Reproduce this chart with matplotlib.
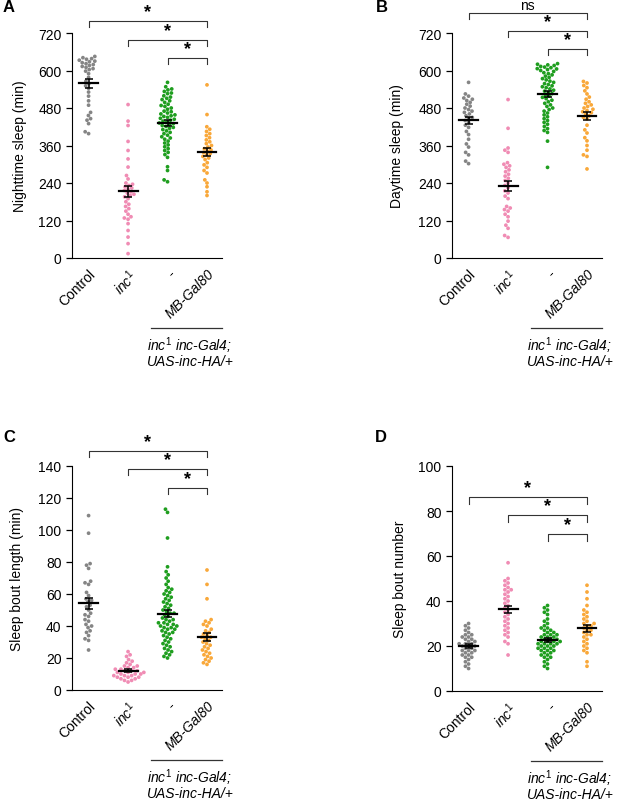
import numpy as np
import pandas as pd
import matplotlib
matplotlib.use("Agg")
import matplotlib.pyplot as plt
import matplotlib.transforms as mtransforms
import seaborn as sns

plt.rcParams['font.family'] = ['Liberation Sans', 'DejaVu Sans']
plt.rcParams['mathtext.fontset'] = 'custom'
plt.rcParams['mathtext.rm'] = 'Liberation Sans'
plt.rcParams['mathtext.it'] = 'Liberation Sans:italic'
plt.rcParams['font.size'] = 10

groups = ["Control", "inc1", "-", "MB-Gal80"]
tick_labels = ["Control", r"$inc^{1}$", "-", "MB-Gal80"]
colors = ["#858585", "#f08cb4", "#1f9e1f", "#f9a83a"]

# A - nighttime sleep (min)
night_ctrl = [645, 641, 638, 636, 633, 630, 628, 625, 622, 619, 616, 613, 610, 606, 603,
              598, 590, 578, 566, 558, 551, 543, 531, 518, 503, 489, 466, 456, 446, 441,
              430, 404, 398]
night_inc = [491, 438, 424, 373, 344, 317, 291, 264, 253, 240, 236, 232, 228, 224, 220,
             216, 212, 208, 204, 200, 196, 190, 180, 172, 165, 158, 150, 140, 132, 128,
             124, 110, 88, 67, 46, 14]
night_res = [562, 548, 541, 538, 533, 528, 526, 519, 515, 511, 507, 503, 498, 492, 488,
             485, 480, 476, 470, 468, 464, 461, 458, 455, 453, 450, 447, 444, 441, 438,
             436, 432, 430, 427, 424, 421, 418, 415, 411, 407, 402, 398, 393, 388, 384,
             380, 374, 368, 362, 356, 350, 344, 338, 331, 322, 292, 280, 250, 244]
night_mb = [554, 459, 420, 412, 405, 398, 392, 385, 378, 372, 366, 360, 355, 350, 346,
            342, 338, 334, 330, 325, 320, 315, 305, 298, 290, 280, 272, 250, 240, 228,
            212, 200]

# B - daytime sleep (min)
day_ctrl = [562, 525, 518, 512, 508, 504, 498, 492, 486, 480, 475, 470, 466, 461, 455,
            450, 446, 440, 434, 425, 418, 405, 395, 380, 365, 355, 338, 330, 310, 302]
day_inc = [507, 415, 352, 345, 338, 305, 300, 295, 290, 282, 276, 268, 262, 255, 248,
           240, 232, 225, 215, 208, 198, 190, 165, 160, 155, 150, 140, 132, 118, 105,
           95, 72, 66]
day_res = [622, 620, 618, 616, 613, 611, 609, 606, 605, 603, 600, 597, 593, 590, 586,
           582, 578, 574, 570, 566, 562, 558, 555, 551, 548, 545, 541, 537, 534, 530,
           526, 522, 518, 514, 510, 505, 500, 495, 490, 485, 480, 475, 470, 464, 458,
           452, 446, 440, 434, 428, 421, 414, 408, 402, 374, 290]
day_mb = [565, 560, 552, 545, 535, 525, 515, 508, 500, 495, 490, 485, 480, 476, 472,
          468, 465, 460, 455, 450, 445, 425, 410, 400, 385, 375, 360, 345, 330, 325, 285]

# C - sleep bout length (min)
len_ctrl = [109, 98, 79, 78, 76, 68, 67, 66, 61, 59, 57, 56, 55, 53, 52, 50, 48, 47, 46,
            44, 43, 41, 40, 39, 37, 36, 34, 32, 31, 25]
len_inc = [24, 22, 21, 19, 18, 17, 16, 15, 15, 14, 14, 13, 13, 12, 12, 12, 11, 11, 11,
           10, 10, 10, 9, 9, 9, 8, 8, 8, 7, 7, 6, 6, 5]
len_res = [113, 111, 95, 77, 74, 72, 70, 68, 66, 64, 63, 62, 61, 60, 59, 58, 57, 56, 55,
           54, 53, 52, 51, 50, 49, 48, 48, 47, 46, 45, 44, 44, 43, 42, 42, 41, 41, 40, 40,
           39, 39, 38, 38, 37, 36, 36, 35, 34, 33, 32, 31, 30, 29, 28, 27, 26, 25, 24, 23,
           22, 21, 20]
len_mb = [75, 66, 57, 44, 43, 42, 41, 40, 38, 37, 36, 35, 34, 33, 33, 32, 31, 30, 29, 28,
          27, 26, 25, 24, 23, 22, 21, 20, 19, 18, 17, 16]

# D - sleep bout number
num_ctrl = [30, 29, 28, 27, 26, 25, 25, 24, 24, 23, 23, 22, 22, 21, 21, 21, 20, 20, 20,
            19, 19, 18, 18, 18, 17, 17, 16, 16, 15, 15, 14, 13, 12, 11, 10]
num_inc = [57, 50, 49, 48, 47, 46, 45, 45, 44, 43, 42, 41, 40, 39, 38, 37, 36, 35, 34,
           33, 32, 31, 30, 29, 28, 27, 26, 25, 24, 22, 21, 16]
num_res = [38, 37, 36, 35, 34, 32, 31, 30, 29, 28, 28, 27, 27, 26, 26, 25, 25, 25, 24,
           24, 24, 23, 23, 23, 22, 22, 22, 22, 21, 21, 21, 21, 20, 20, 20, 19, 19, 19, 18,
           18, 18, 17, 17, 16, 16, 15, 15, 14, 13, 12, 11, 10]
num_mb = [47, 44, 41, 38, 36, 35, 34, 33, 32, 31, 30, 30, 29, 29, 28, 27, 27, 26, 25, 25,
          24, 23, 22, 21, 20, 19, 18, 17, 13, 11]

pairs = [(0, 3), (1, 3), (2, 3)]


def panel(ax, values, ytop, ystep, levels, tick, marks):
    df = pd.DataFrame({"g": np.repeat(groups, [len(v) for v in values]),
                       "v": np.concatenate(values)})
    sns.swarmplot(data=df, x="g", y="v", hue="g", order=groups, hue_order=groups,
                  palette=colors, size=2.7, linewidth=0, legend=False, ax=ax, zorder=2)
    for i, v in enumerate(values):
        m = np.mean(v)
        s = np.std(v, ddof=1) / np.sqrt(len(v))
        ax.plot([i - 0.24, i + 0.24], [m, m], color="k", lw=1.6, zorder=4)
        ax.errorbar(i, m, yerr=s, color="k", lw=1.1, capsize=3, capthick=1.1, zorder=4)

    ax.set_xlim(-0.42, 3.38)
    ax.set_ylim(0, ytop)
    ax.set_yticks(np.arange(0, ytop + 1, ystep))
    ax.spines["top"].set_visible(False)
    ax.spines["right"].set_visible(False)
    ax.tick_params(axis="y", length=4.5, width=0.9, pad=3, labelsize=10)
    ax.tick_params(axis="x", length=0, pad=6, labelsize=10)
    ax.set_xticks(range(4))
    ax.set_xticklabels(tick_labels, rotation=45, ha="right", va="top",
                       rotation_mode="anchor")
    ax.get_xticklabels()[3].set_fontstyle("italic")
    ax.set_xlabel("")
    ax.set_ylabel("")

    for (a, b), lev, mk in zip(pairs, levels, marks):
        ax.plot([a, a, b, b], [lev - tick, lev, lev, lev - tick], color="#333333",
                lw=0.8, clip_on=False)
        star = mk == "*"
        ax.annotate(mk, xy=((a + b) / 2, lev), xytext=(0, 7 if star else 5.5),
                    textcoords="offset points", ha="center", va="center",
                    fontsize=13 if star else 10,
                    fontweight="bold" if star else "normal", annotation_clip=False)

    trans = mtransforms.blended_transform_factory(ax.transData, ax.transAxes)
    ax.plot([1.58, 3.38], [-0.311, -0.311], transform=trans, color="#333333",
            lw=0.9, clip_on=False)
    ax.text(2.57, -0.387, r"$inc^{1}$ inc-Gal4;", transform=trans, ha="center",
            va="center", style="italic")
    ax.text(2.57, -0.458, "UAS-inc-HA/+", transform=trans, ha="center",
            va="center", style="italic")


W, H = 617, 803
fig = plt.figure(figsize=(W / 100, H / 100), dpi=100)

axA = fig.add_axes([72 / W, 1 - 259 / H, 150 / W, 225 / H])
axB = fig.add_axes([452 / W, 1 - 259 / H, 150 / W, 225 / H])
axC = fig.add_axes([72 / W, 1 - 691 / H, 150 / W, 224 / H])
axD = fig.add_axes([452 / W, 1 - 692 / H, 150 / W, 225 / H])

panel(axA, [night_ctrl, night_inc, night_res, night_mb], 720, 120,
      [758, 698, 640], 19, ["*", "*", "*"])
panel(axB, [day_ctrl, day_inc, day_res, day_mb], 720, 120,
      [785, 726, 669], 19, ["ns", "*", "*"])
panel(axC, [len_ctrl, len_inc, len_res, len_mb], 140, 20,
      [149.4, 138.1, 126.3], 3.75, ["*", "*", "*"])
panel(axD, [num_ctrl, num_inc, num_res, num_mb], 100, 20,
      [86.2, 78.2, 69.8], 3.1, ["*", "*", "*"])

# y labels and panel letters
for x, yc, txt in [(20, 146.5, "Nighttime sleep (min)"), (397, 146.5, "Daytime sleep (min)"),
                   (17, 579, "Sleep bout length (min)"), (400, 579.5, "Sleep bout number")]:
    fig.text(x / W, 1 - yc / H, txt, rotation=90, ha="center", va="center", fontsize=10)

for x, y, letter in [(3, 8, "A"), (376, 8, "B"), (3, 438, "C"), (375, 438, "D")]:
    fig.text(x / W, 1 - y / H, letter, ha="left", va="center", fontsize=12,
             fontweight="bold")

fig.savefig("out.png", dpi=100)
